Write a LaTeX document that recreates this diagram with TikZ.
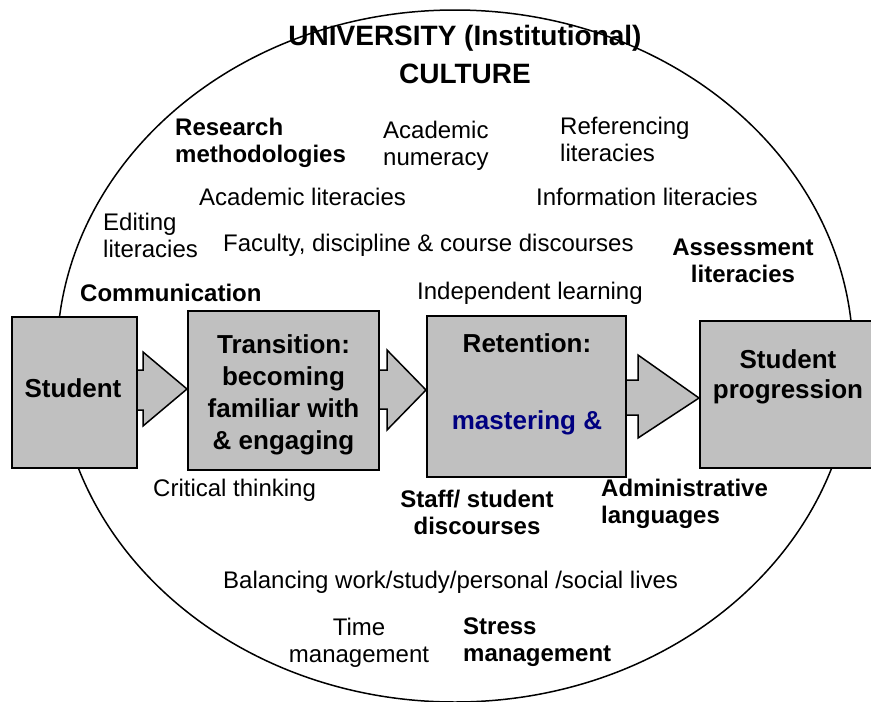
\documentclass[tikz,border=0pt]{standalone}
\usepackage{fontspec}
\setmainfont{Liberation Sans}
\usetikzlibrary{backgrounds}
\definecolor{boxgray}{HTML}{C0C0C0}
\definecolor{navyblue}{HTML}{000080}
\begin{document}
\begin{tikzpicture}[x=1pt,y=-1pt,
  stage/.style={draw=black, line width=2pt, fill=boxgray, inner sep=0pt},
  stagetext/.style={inner sep=0pt, align=center, font=\fontsize{26}{31}\selectfont\bfseries},
  plain/.style={inner sep=0pt, align=left, font=\fontsize{24}{27}\selectfont},
  strong/.style={inner sep=0pt, align=left, font=\fontsize{24}{27}\selectfont\bfseries},
  headline/.style={inner sep=0pt, align=center, font=\fontsize{28}{38}\selectfont\bfseries},
  blockarrow/.style={draw=black, line width=1.5pt, fill=boxgray, line join=miter},
  culture/.style={draw=black, line width=1.5pt}]
\useasboundingbox (0,0) rectangle (871,702);

% the four stages
\node[stage, minimum width=125pt, minimum height=151pt] (student) at (74.5,392.5) {};
\node[stage, minimum width=191pt, minimum height=159pt] (transition) at (283.5,390.5) {};
\node[stage, minimum width=199pt, minimum height=161pt] (retention) at (526.5,396.5) {};
\node[stage, minimum width=180pt, minimum height=147pt] (progression) at (790,394.5) {};

% stage texts
\node[stagetext] (studentlbl) at (73,388) {Student};
\node[stagetext, font=\fontsize{26}{32}\selectfont\bfseries] (translbl) at (283.5,395)
  {Transition:\\becoming\\familiar with\\\& engaging};
\node[stagetext] (retlbl) at (527,343) {Retention:};
\node[stagetext, text=navyblue] (masterlbl) at (527,423) {mastering \&};
\node[stagetext, font=\fontsize{26}{30}\selectfont\bfseries] (proglbl) at (788,377) {Student\\progression};

% the surrounding culture and the block arrows between stages
\begin{scope}[on background layer]
\draw[culture] (455,356) ellipse [x radius=398, y radius=346];
\draw[blockarrow] (student.east |- 0,370) -- (143,370) -- (143,352)
  -- (transition.west |- 0,389) -- (143,426) -- (143,410) -- (student.east |- 0,410);
\draw[blockarrow] (transition.east |- 0,370) -- (387,370) -- (387,350)
  -- (retention.west |- 0,390) -- (387,430) -- (387,409) -- (transition.east |- 0,409);
\draw[blockarrow] (retention.east |- 0,380) -- (638,380) -- (638,355)
  -- (progression.west |- 0,398) -- (638,438) -- (638,415) -- (retention.east |- 0,415);
\end{scope}

% title
\node[headline] (title) at (465,54) {UNIVERSITY (Institutional)\\CULTURE};

% elements of the culture
\node[strong, anchor=west] (research) at (175,143) {Research\\methodologies};
\node[plain, anchor=west] (numeracy) at (383,146) {Academic\\numeracy};
\node[plain, anchor=west] (referencing) at (560,139) {Referencing\\literacies};
\node[plain, anchor=west] (acadlit) at (199,197) {Academic literacies};
\node[plain, anchor=west] (infolit) at (536,197) {Information literacies};
\node[plain, anchor=west] (editing) at (103,235) {Editing\\literacies};
\node[plain, anchor=west] (faculty) at (223,245) {Faculty, discipline \& course discourses};
\node[strong, align=center] (assessment) at (743,261) {Assessment\\literacies};
\node[strong, anchor=west] (communication) at (80,293) {Communication};
\node[plain, anchor=west] (independent) at (417,293) {Independent learning};
\node[plain, anchor=west] (critical) at (153,490) {Critical thinking};
\node[strong, align=center] (staff) at (477,512) {Staff/ student\\discourses};
\node[strong, anchor=west] (admin) at (601,503.5) {Administrative\\languages};
\node[plain, anchor=west] (balancing) at (223,582) {Balancing work/study/personal /social lives};
\node[plain, align=center] (time) at (359,642.5) {Time\\management};
\node[strong, anchor=west] (stress) at (463,642.5) {Stress\\management};
\end{tikzpicture}
\end{document}
